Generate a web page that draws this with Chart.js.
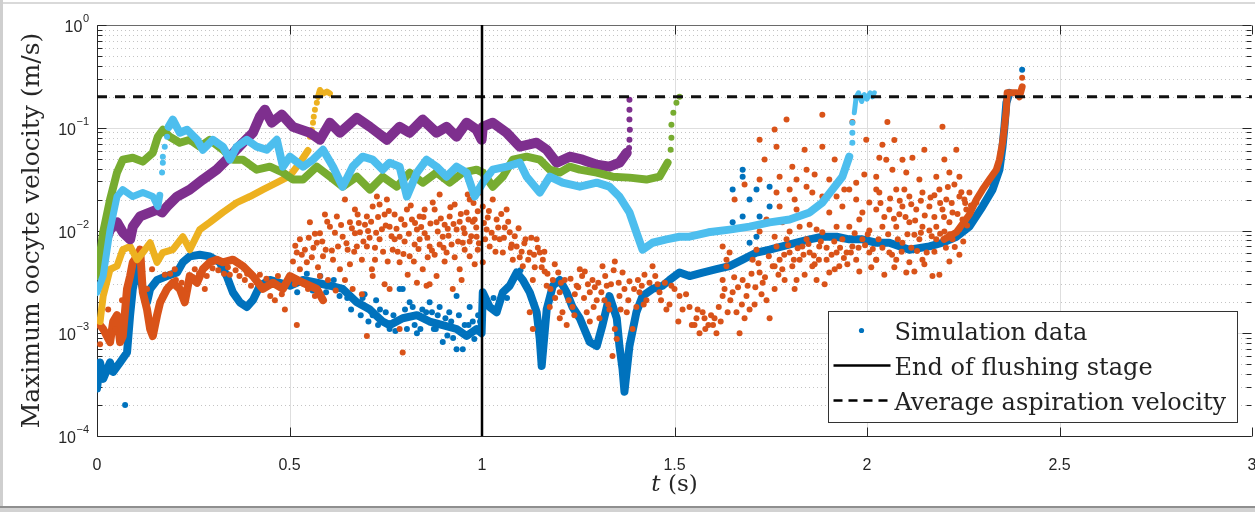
<!DOCTYPE html>
<html>
<head>
<meta charset="utf-8">
<title>Maximum oocyte velocity</title>
<script src="https://cdn.jsdelivr.net/npm/chart.js@4.4.1/dist/chart.umd.min.js"></script>
<style>
  html, body { margin: 0; padding: 0; background: #fff; }
  #wrap { width: 1255px; height: 512px; position: relative; }
</style>
</head>
<body>
<div id="wrap"><canvas id="velChart"></canvas></div>
<script>
// axis ticks
const xTicks = [0, 0.5, 1, 1.5, 2, 2.5, 3];
const yDecades = [1e-4, 1e-3, 1e-2, 1e-1, 1];

// reference lines
const flushEnd = 1;          // end of flushing stage (s)
const aspirationVel = 0.2;   // average aspiration velocity (m/s)

// simulation runs, [t (s), v (m/s)]
const blueBand = [[0,0.00029],[0.008,0.00052],[0.016,0.00036],[0.034,0.00052],[0.042,0.00042],[0.06,0.00052],[0.078,0.00065],[0.086,0.0015],[0.093,0.0027],[0.104,0.0045],[0.112,0.0036],[0.119,0.0027],[0.13,0.002],[0.138,0.0027],[0.156,0.0033],[0.182,0.0036],[0.208,0.0039],[0.223,0.0049],[0.241,0.0056],[0.267,0.0058],[0.293,0.0056],[0.319,0.0049],[0.337,0.0036],[0.353,0.0025],[0.371,0.002],[0.389,0.0018],[0.405,0.0021],[0.423,0.0029],[0.449,0.0033],[0.475,0.0031],[0.501,0.0029],[0.535,0.0033],[0.571,0.0031],[0.605,0.0029],[0.638,0.0027],[0.675,0.002],[0.709,0.0017],[0.742,0.0013],[0.76,0.0012],[0.794,0.0014],[0.831,0.0015],[0.864,0.0013],[0.898,0.0012],[0.934,0.0011],[0.96,0.00094],[0.986,0.0011],[0.999,0.001],[1.002,0.0025],[1.02,0.0018],[1.038,0.0016],[1.054,0.0025],[1.072,0.0029],[1.09,0.0039],[1.106,0.0033],[1.124,0.0025],[1.142,0.0016],[1.15,0.00088],[1.155,0.00048],[1.168,0.0017],[1.184,0.0029],[1.202,0.0033],[1.22,0.0025],[1.235,0.0018],[1.254,0.0014],[1.28,0.00082],[1.298,0.00075],[1.313,0.0012],[1.331,0.0023],[1.35,0.0014],[1.357,0.00075],[1.365,0.00045],[1.37,0.00027],[1.383,0.00075],[1.401,0.0016],[1.417,0.0023],[1.443,0.0027],[1.469,0.0029],[1.487,0.0033],[1.513,0.0039],[1.539,0.0036],[1.573,0.0039],[1.609,0.0042],[1.643,0.0045],[1.677,0.0052],[1.713,0.0061],[1.747,0.0065],[1.78,0.007],[1.817,0.0076],[1.851,0.0082],[1.884,0.0087],[1.921,0.0087],[1.954,0.0082],[1.988,0.0082],[2.024,0.0076],[2.058,0.0076],[2.11,0.0065],[2.162,0.007],[2.196,0.0076],[2.232,0.0087],[2.266,0.0109],[2.3,0.0171],[2.326,0.025],[2.344,0.0391],[2.352,0.0654],[2.357,0.102],[2.362,0.175],[2.37,0.219]];
const blueDots = [
  [0.073,0.0002],[0.716,0.0015],[0.76,0.0011],[0.786,0.0027],[0.794,0.0027],[0.812,0.002],[0.831,0.001],[0.864,0.002],[0.89,0.0018],[0.898,0.00082],[0.934,0.0007],[0.934,0.0023],[0.95,0.0007],[0.968,0.0018],[0.976,0.0013],[0.69,0.0022],[0.735,0.0017],[0.845,0.0017],[0.915,0.0016],[0.88,0.0011],[0.99,0.0015],
  [0.52,0.0025],[0.545,0.0038],[0.56,0.0026],[0.58,0.0036],[0.595,0.0025],[0.615,0.0033],[0.63,0.0023],[0.65,0.0022],[0.66,0.0017],[0.685,0.0015],[0.695,0.0024],[0.705,0.0013],[0.725,0.0021],[0.73,0.0012],[0.75,0.0016],[0.77,0.0015],[0.775,0.00105],[0.8,0.0017],[0.805,0.0011],[0.82,0.0018],[0.825,0.0012],[0.84,0.0011],[0.855,0.0016],[0.87,0.0016],[0.875,0.0011],[0.885,0.0015],[0.905,0.0014],[0.91,0.00095],[0.92,0.0013],[0.925,0.0009],[0.94,0.0015],[0.955,0.0012],[0.965,0.0012],[0.98,0.00088],[0.995,0.0013],
  [1.01,0.0021],[1.03,0.0022],[1.045,0.002],[1.065,0.0022],[1.08,0.0034],[1.1,0.0041],[1.115,0.0029],
  [1.651,0.025],[1.651,0.012],[1.677,0.0391],[1.677,0.0334],[1.677,0.0137],[1.695,0.02],[1.695,0.0076],[1.713,0.025],[1.713,0.0087],[1.721,0.0137],[1.747,0.0267],[1.747,0.0171],[2.403,0.366]
];

const orangeBand = [[0,0.0013],[0.016,0.0011],[0.034,0.00082],[0.042,0.0013],[0.052,0.0015],[0.06,0.00082],[0.067,0.00094],[0.078,0.0027],[0.086,0.0036],[0.093,0.0049],[0.104,0.0056],[0.112,0.0065],[0.119,0.0025],[0.13,0.0017],[0.138,0.0011],[0.145,0.00094],[0.156,0.0015],[0.164,0.002],[0.182,0.0027],[0.197,0.0031],[0.215,0.0027],[0.228,0.002],[0.241,0.0036],[0.26,0.0031],[0.275,0.0042],[0.293,0.0049],[0.311,0.0052],[0.327,0.0049],[0.353,0.0052],[0.379,0.0045],[0.405,0.0036],[0.431,0.0027],[0.457,0.0031],[0.483,0.0027],[0.501,0.0036],[0.535,0.0031],[0.571,0.0027],[0.587,0.0021]];
const orangeTail = [[2.2,0.0082],[2.232,0.0096],[2.266,0.0143],[2.284,0.02],[2.3,0.025],[2.318,0.0313],[2.336,0.0391],[2.344,0.0489],[2.352,0.0715],[2.357,0.102],[2.362,0.15],[2.364,0.219],[2.377,0.219],[2.388,0.219],[2.396,0.2],[2.403,0.25]];
const orangeDots = [
  // start-up
  [0.008,0.00078],[0.029,0.0017],[0.047,0.0011],[0.065,0.0021],[0.13,0.0027],[0.143,0.0042],[0.176,0.0037],[0.202,0.0042],[0.254,0.0042],[0.28,0.0027],[0.345,0.0037],[0.384,0.0033],[0.423,0.0037],[0.462,0.0021],[0.488,0.0017],
  [0.17,0.0023],[0.19,0.0038],[0.205,0.0033],[0.22,0.0031],[0.235,0.0027],[0.25,0.0035],[0.265,0.0038],[0.285,0.0036],[0.3,0.0043],[0.315,0.0041],[0.33,0.0038],[0.34,0.0044],[0.36,0.0041],[0.37,0.0036],[0.39,0.0038],[0.4,0.0029],[0.415,0.0031],[0.44,0.0034],[0.45,0.0023],[0.47,0.0036],[0.48,0.0024],[0.495,0.0032],
  // flushing stage
  [0.519,0.0012],[0.701,0.00094],[0.794,0.00065],[0.786,0.0011],[0.519,0.0061],[0.545,0.0049],[0.571,0.0076],[0.587,0.0056],[0.605,0.0109],[0.623,0.0137],[0.638,0.0087],[0.657,0.012],[0.675,0.007],[0.683,0.0096],[0.701,0.0137],[0.716,0.0171],[0.727,0.0214],[0.734,0.0082],[0.753,0.02],[0.76,0.0109],[0.768,0.0065],[0.786,0.0087],[0.805,0.016],[0.812,0.0056],[0.831,0.0102],[0.838,0.0137],[0.846,0.0042],[0.864,0.007],[0.872,0.0187],[0.882,0.012],[0.898,0.0087],[0.908,0.0061],[0.916,0.0137],[0.934,0.0102],[0.942,0.0042],[0.95,0.0076],[0.96,0.015],[0.968,0.0056],[0.986,0.0087],[0.994,0.0234],[1.002,0.0049],
  [0.579,0.0036],[0.631,0.0042],[0.716,0.0036],[0.76,0.0027],[0.664,0.0027],[0.882,0.0036],[0.831,0.0031],[0.924,0.0027],[0.701,0.007],[0.553,0.012],[0.786,0.0049],[0.856,0.0029],
  [0.566,0.0093],[0.592,0.0143],[0.644,0.02],[0.67,0.016],[0.696,0.0114],[0.722,0.0052],[0.747,0.0143],[0.773,0.0082],[0.799,0.0114],[0.825,0.0073],[0.851,0.016],[0.877,0.0058],[0.903,0.0114],[0.929,0.0179],[0.955,0.0065],[0.981,0.0128],[0.968,0.02],[0.89,0.0224],[0.734,0.0179],
  [0.509,0.005],[0.527,0.0042],[0.54,0.0065],[0.558,0.0055],[0.574,0.0044],[0.594,0.0065],[0.613,0.0052],[0.626,0.007],[0.514,0.003],[0.548,0.0027],[0.566,0.0023],[0.6,0.0033],[0.62,0.0026],[0.644,0.0033],[0.657,0.0047],[0.527,0.0082],[0.579,0.0094],
  [0.651,0.0065],[0.67,0.0094],[0.688,0.0052],[0.704,0.0099],[0.722,0.0068],[0.74,0.0103],[0.755,0.005],[0.773,0.0143],[0.781,0.0062],[0.799,0.0078],[0.818,0.0128],[0.823,0.005],[0.838,0.0082],[0.677,0.0143],[0.714,0.0042],[0.747,0.003],[0.688,0.0024],[0.807,0.0037],
  [0.851,0.0094],[0.859,0.0055],[0.877,0.016],[0.89,0.0073],[0.903,0.005],[0.911,0.0104],[0.921,0.0073],[0.929,0.0055],[0.942,0.0122],[0.955,0.0094],[0.968,0.0078],[0.976,0.0122],[0.989,0.0065],[0.981,0.0047],[0.947,0.0033],[0.864,0.003],[0.963,0.0224],[0.989,0.0154],
  [0.515,0.0071],[0.532,0.0058],[0.55,0.0085],[0.562,0.0068],[0.585,0.0078],[0.598,0.0122],[0.61,0.0064],[0.618,0.0095],[0.634,0.0113],[0.648,0.0075],[0.662,0.0105],[0.668,0.0062],[0.68,0.0118],[0.692,0.0078],[0.708,0.0085],[0.712,0.0122],[0.725,0.0095],[0.73,0.0135],[0.743,0.0062],[0.75,0.0112],[0.758,0.0155],[0.765,0.0088],[0.778,0.0104],[0.79,0.0129],[0.796,0.0059],[0.81,0.0093],[0.815,0.0175],[0.826,0.0118],[0.835,0.0066],[0.842,0.0108],[0.848,0.0135],[0.858,0.0085],[0.866,0.0117],[0.87,0.0064],[0.885,0.0098],[0.893,0.0131],[0.9,0.0068],[0.913,0.0089],[0.918,0.0168],[0.926,0.0116],[0.938,0.0078],[0.945,0.0145],[0.952,0.0105],[0.965,0.0128],[0.972,0.0088],[0.978,0.0185],[0.985,0.0107],[0.992,0.0075],
  // after flushing
  [1.002,0.0171],[1.012,0.0102],[1.02,0.007],[1.028,0.02],[1.038,0.0128],[1.046,0.0082],[1.054,0.0061],[1.064,0.016],[1.072,0.0096],[1.08,0.0052],[1.09,0.007],[1.106,0.0045],[1.124,0.0061],[1.132,0.0033],[1.142,0.0082],[1.158,0.0052],[1.168,0.0029],[1.176,0.0018],[1.184,0.0033],[1.202,0.0025],[1.209,0.0016],[1.22,0.0012],[1.235,0.0018],[1.246,0.0029],[1.254,0.0042],[1.272,0.0016],[1.28,0.0025],[1.287,0.0033],[1.298,0.0021],[1.305,0.0014],[1.313,0.0045],[1.324,0.0029],[1.331,0.0017],[1.339,0.0006],[1.35,0.00088],[1.357,0.0023],[1.365,0.0039],[1.376,0.0016],[1.391,0.0011],[1.401,0.0018],[1.409,0.0025],[1.427,0.0021],[1.443,0.0045],[1.461,0.0025],[1.479,0.0017],[1.492,0.0029],[1.513,0.0023],[1.521,0.0017],[1.124,0.0016],[1.132,0.0011],[1.15,0.0061],
  [1.015,0.0134],[1.033,0.0085],[1.059,0.0107],[1.077,0.0073],[1.098,0.0055],[1.113,0.0082],[1.137,0.0044],[1.163,0.004],[1.189,0.0047],[1.215,0.0033],[1.241,0.0024],[1.267,0.004],[1.293,0.0028],[1.318,0.0021],[1.345,0.005],[1.383,0.0032],[1.422,0.0037],[1.456,0.003],[1.487,0.0019],[1.345,0.0011],[1.202,0.0014],[1.28,0.0013],
  [1.005,0.0118],[1.008,0.0082],[1.018,0.0155],[1.025,0.0095],[1.035,0.0062],[1.042,0.0107],[1.05,0.0145],[1.057,0.0085],[1.068,0.0122],[1.075,0.0068],[1.085,0.0088],[1.095,0.0105],[1.103,0.0062],[1.11,0.0075],[1.12,0.0052],[1.128,0.0085],[1.135,0.0058],[1.145,0.0068],[1.155,0.0044],[1.162,0.0062],
  [1.17,0.0038],[1.178,0.0027],[1.19,0.0022],[1.198,0.0039],[1.205,0.0031],[1.225,0.0021],[1.23,0.0034],[1.24,0.0015],[1.25,0.0028],[1.26,0.0036],[1.265,0.0022],[1.275,0.003],[1.29,0.0018],[1.302,0.0031],[1.31,0.0025],[1.32,0.0036],[1.328,0.0019],[1.335,0.003],[1.342,0.0041],[1.355,0.0031],[1.36,0.0017],[1.37,0.0027],[1.38,0.0021],[1.395,0.0027],[1.405,0.0033],[1.415,0.0029],[1.42,0.0019],[1.435,0.0031],[1.45,0.0036],[1.465,0.0021],[1.475,0.0031],[1.5,0.0027],[1.51,0.0013],[1.53,0.0024],
  // aspiration
  [1.539,0.0018],[1.557,0.0014],[1.573,0.0016],[1.588,0.0012],[1.609,0.001],[1.625,0.0023],[1.625,0.0033],[1.635,0.0045],[1.643,0.0061],[1.651,0.0025],[1.661,0.0016],[1.669,0.001],[1.677,0.0033],[1.687,0.0023],[1.695,0.0017],[1.703,0.0052],[1.713,0.0065],[1.721,0.0039],[1.729,0.0031],[1.739,0.0021],[1.747,0.0014],[1.755,0.0045],[1.765,0.007],[1.773,0.0052],[1.78,0.0042],[1.791,0.0082],[1.799,0.0061],[1.806,0.0045],[1.817,0.0033],[1.825,0.0052],[1.832,0.007],[1.843,0.0082],[1.851,0.0061],[1.858,0.0045],[1.869,0.0033],[1.876,0.007],[1.884,0.0096],[1.895,0.0052],[1.902,0.0039],[1.921,0.0061],[1.928,0.0045],[1.936,0.0082],[1.947,0.0061],[1.954,0.0109],[1.962,0.007],[1.972,0.0052],[1.988,0.0082],[2.006,0.0061],[2.024,0.0052],
  [1.552,0.0012],[1.578,0.0014],[1.604,0.0014],[1.638,0.0016],[1.682,0.0014],[1.708,0.0019],[1.726,0.0024],[1.76,0.0027],[1.786,0.0033],[1.812,0.0027],[1.838,0.0037],[1.864,0.0047],[1.89,0.003],[1.916,0.0042],[1.949,0.0047],[1.98,0.004],[2.011,0.0044],[2.045,0.0037],[2.071,0.0044],[2.123,0.004],[2.149,0.0047],[2.188,0.0037],[2.214,0.005],[2.24,0.0058],
  [1.545,0.0012],[1.56,0.0017],[1.565,0.001],[1.58,0.0011],[1.595,0.0015],[1.6,0.0012],[1.615,0.0018],[1.62,0.0013],[1.63,0.0027],[1.645,0.0021],[1.655,0.0035],[1.665,0.0028],[1.675,0.0019],[1.69,0.0029],[1.7,0.0038],[1.71,0.0028],[1.718,0.0048],[1.735,0.0035],[1.745,0.0056],[1.76,0.0045],[1.77,0.0037],
  [1.785,0.0058],[1.795,0.0072],[1.81,0.0052],[1.82,0.0067],[1.835,0.0058],[1.848,0.0074],[1.862,0.0057],[1.875,0.0052],[1.88,0.0078],[1.895,0.0068],[1.908,0.0058],[1.915,0.0078],[1.93,0.0068],[1.94,0.0054],[1.958,0.0061],[1.968,0.0094],[1.978,0.0068],[1.995,0.0072],[2.002,0.0092],[2.015,0.0066],[2.03,0.0082],[2.04,0.0068],[2.055,0.0092],[2.065,0.0058],[2.08,0.0082],[2.09,0.0062],[2.105,0.0092],[2.115,0.0068],[2.13,0.0063],[2.14,0.0095],[2.155,0.0061],[2.168,0.0088],[2.175,0.0062],[2.19,0.0093],[2.205,0.0068],[2.215,0.0092],[2.228,0.0069],[2.24,0.0103],[2.25,0.0078],[2.26,0.0112],
  [1.721,0.0764],[1.791,0.12],[1.884,0.134],[1.884,0.0654],[1.962,0.114],[1.998,0.0764],[1.765,0.0654],[1.806,0.0418],[1.843,0.0391],[1.773,0.0334],[1.817,0.0313],[1.721,0.0313],[1.765,0.0234],[1.799,0.025],[1.843,0.0267],[1.858,0.0234],[1.884,0.0214],[1.902,0.0313],[1.921,0.0214],[1.936,0.0171],[1.954,0.025],[1.972,0.0292],[1.972,0.02],[1.988,0.015],[2.006,0.0187],[2.024,0.025],[1.773,0.0171],[1.817,0.016],[1.851,0.015],[1.902,0.015],[1.739,0.0128],[1.78,0.012],[1.825,0.0109],[1.869,0.0102],[1.921,0.0109],[1.625,0.007],[1.635,0.0052],
  [1.656,0.02],[1.682,0.028],[1.734,0.049],[1.76,0.096],[1.812,0.02],[1.838,0.061],[1.864,0.035],[1.916,0.049],[1.941,0.025],[1.993,0.035],[2.032,0.051],[2.071,0.076],[2.097,0.025],[2.149,0.061],[2.175,0.022],[2.201,0.049],[2.227,0.028],[2.253,0.02],[2.123,0.0091],[2.162,0.01],[2.201,0.0098],[2.084,0.0144],[2.006,0.01],[1.98,0.0128],[1.799,0.0098],[1.851,0.0114],[1.76,0.0087],[1.721,0.0098],
  [2.053,0.114],[2.196,0.102],[2.118,0.0511],[2.232,0.0611],[2.092,0.0489],[2.04,0.0684],[2.05,0.0489],[2.024,0.0334],[2.066,0.0391],[2.102,0.0366],[2.136,0.0313],[2.18,0.0334],[2.214,0.0366],[2.24,0.0334],[2.032,0.0234],[2.076,0.025],[2.11,0.0214],[2.144,0.0234],[2.188,0.025],[2.206,0.02],[2.24,0.0214],[2.266,0.0234],[2.284,0.0187],[2.024,0.016],[2.058,0.016],[2.092,0.0171],[2.128,0.016],[2.162,0.0171],[2.196,0.016],[2.222,0.015],[2.258,0.016],[2.04,0.0109],[2.076,0.0109],[2.11,0.012],[2.144,0.0109],[2.18,0.0109],[2.214,0.012],[2.248,0.0128],[2.092,0.0076],[2.136,0.0082],[2.18,0.0082],[2.222,0.0082],[2.024,0.0052],[2.076,0.0052],[2.11,0.0049],[2.144,0.0052],[2.17,0.0036],[2.102,0.0039],[2.058,0.0061],[2.403,0.306],
  [2.035,0.0185],[2.045,0.0135],[2.06,0.0205],[2.07,0.013],[2.085,0.0195],[2.1,0.0135],[2.115,0.018],[2.125,0.0125],[2.14,0.0195],[2.15,0.014],[2.165,0.021],[2.175,0.0135],[2.19,0.0185],[2.2,0.0135],[2.21,0.0265],[2.22,0.0185],[2.235,0.0145],[2.245,0.0235],[2.255,0.0185],[2.27,0.0175]
];

const yellowBand = [[0.008,0.0013],[0.016,0.0023],[0.034,0.0042],[0.052,0.0045],[0.067,0.0065],[0.086,0.007],[0.104,0.0052],[0.119,0.0061],[0.138,0.0076],[0.156,0.0049],[0.171,0.0061],[0.197,0.0065],[0.223,0.0087],[0.241,0.0065],[0.267,0.0102],[0.293,0.012],[0.327,0.015],[0.363,0.0187],[0.397,0.0214],[0.431,0.025],[0.467,0.0292],[0.501,0.034],[0.527,0.0457],[0.548,0.06]];
const yellowRise = [[0.553,0.0818],[0.558,0.0957],[0.561,0.112],[0.563,0.128],[0.566,0.15],[0.571,0.175]];
const yellowTop = [[0.574,0.2],[0.579,0.233],[0.587,0.215],[0.597,0.225],[0.605,0.215]];

const purpleBand = [[0,0.0049],[0.034,0.0102],[0.052,0.012],[0.067,0.0096],[0.086,0.0082],[0.093,0.0109],[0.112,0.0137],[0.138,0.015],[0.156,0.016],[0.169,0.015],[0.182,0.0171],[0.208,0.0214],[0.241,0.025],[0.275,0.0313],[0.311,0.0391],[0.345,0.0523],[0.379,0.0715],[0.405,0.0894],[0.423,0.128],[0.436,0.15],[0.454,0.112],[0.48,0.134],[0.509,0.102],[0.553,0.0894],[0.579,0.0764],[0.605,0.112],[0.631,0.0894],[0.675,0.125],[0.709,0.102],[0.753,0.0764],[0.786,0.102],[0.812,0.0894],[0.846,0.12],[0.882,0.0894],[0.908,0.102],[0.934,0.0818],[0.96,0.112],[0.986,0.0957],[0.999,0.0764],[1.002,0.102],[1.028,0.112],[1.064,0.0894],[1.098,0.0654],[1.142,0.0715],[1.168,0.0611],[1.194,0.0457],[1.228,0.0523],[1.261,0.0489],[1.298,0.0437],[1.331,0.0418],[1.357,0.0457],[1.376,0.0572]];
const purpleRise = [[1.382,0.0636],[1.383,0.0764],[1.384,0.0957],[1.383,0.12],[1.383,0.15],[1.383,0.187]];

const greenBand = [[0,0.0036],[0.016,0.0096],[0.034,0.02],[0.052,0.0366],[0.067,0.0489],[0.093,0.0511],[0.119,0.0468],[0.145,0.0572],[0.158,0.0818],[0.171,0.0957],[0.189,0.0818],[0.215,0.0715],[0.241,0.0764],[0.267,0.0654],[0.293,0.0764],[0.327,0.0611],[0.353,0.0489],[0.379,0.0489],[0.415,0.0391],[0.449,0.0418],[0.483,0.0366],[0.509,0.0313],[0.535,0.0313],[0.571,0.0418],[0.605,0.0334],[0.638,0.0267],[0.675,0.0334],[0.709,0.025],[0.742,0.0334],[0.779,0.0267],[0.812,0.0366],[0.846,0.0292],[0.882,0.0366],[0.916,0.0292],[0.95,0.0366],[0.986,0.0391],[1.002,0.0366],[1.028,0.0267],[1.054,0.0334],[1.08,0.0489],[1.116,0.0523],[1.15,0.0489],[1.176,0.0391],[1.202,0.0366],[1.228,0.0418],[1.254,0.0391],[1.298,0.0366],[1.339,0.0334],[1.383,0.0327],[1.427,0.0313],[1.461,0.0334],[1.482,0.0457]];
const greenRise = [[1.49,0.0611],[1.492,0.08],[1.492,0.107],[1.497,0.14],[1.505,0.175],[1.513,0.2]];

const lightBandA = [[0,0.0025],[0.016,0.0036],[0.034,0.0102],[0.052,0.0214],[0.067,0.025],[0.093,0.0214],[0.119,0.0234],[0.145,0.0214],[0.158,0.0171],[0.163,0.022]];
const lightRiseA = [[0.169,0.0366],[0.171,0.0457],[0.171,0.0523],[0.176,0.0654],[0.182,0.0818]];
const lightBandB = [[0.186,0.102],[0.197,0.12],[0.215,0.0894],[0.234,0.0957],[0.26,0.0764],[0.275,0.0611],[0.301,0.0764],[0.327,0.0654],[0.345,0.0489],[0.363,0.0654],[0.389,0.0764],[0.415,0.0654],[0.441,0.0611],[0.467,0.0764],[0.483,0.0418],[0.501,0.0523],[0.535,0.0418],[0.561,0.0489],[0.587,0.0611],[0.613,0.0418],[0.638,0.0267],[0.664,0.0418],[0.69,0.0523],[0.716,0.0489],[0.742,0.0391],[0.76,0.0457],[0.786,0.0418],[0.805,0.0214],[0.831,0.0366],[0.856,0.0489],[0.882,0.0418],[0.908,0.0334],[0.934,0.0418],[0.96,0.0366],[0.981,0.0214],[1.002,0.0292],[1.028,0.0391],[1.064,0.0418],[1.098,0.0457],[1.116,0.0334],[1.15,0.0234],[1.176,0.0334],[1.209,0.0292],[1.254,0.0267],[1.298,0.0292],[1.331,0.0267],[1.357,0.0214],[1.383,0.015],[1.401,0.0096],[1.417,0.0065],[1.443,0.0076],[1.479,0.0082],[1.513,0.0087],[1.539,0.0087],[1.588,0.0096],[1.643,0.0102],[1.695,0.0109],[1.747,0.012],[1.799,0.0128],[1.851,0.015],[1.884,0.0187],[1.91,0.025],[1.936,0.0334],[1.954,0.0523]];
const lightRiseB = [[1.962,0.0715],[1.962,0.0894],[1.962,0.112]];
const lightTop = [[1.967,0.14],[1.972,0.2],[1.978,0.219],[1.986,0.18],[1.993,0.21],[2.0,0.19],[2.008,0.219],[2.014,0.2],[2.019,0.219]];

const colors = {
  blue: '#0072BD', orange: '#D95319', yellow: '#EDB120',
  purple: '#7E2F8E', green: '#77AC30', light: '#4DBEEE'
};

const toPts = arr => arr.map(([t, v]) => ({ x: t, y: v }));

function band(data, color, width) {
  return {
    data: toPts(data), showLine: true, borderColor: color, borderWidth: width,
    pointRadius: 0, pointHoverRadius: 0, borderJoinStyle: 'round', borderCapStyle: 'round', tension: 0
  };
}
function dots(data, color) {
  return {
    data: toPts(data), showLine: false, backgroundColor: color, borderWidth: 0,
    pointRadius: 3, pointHoverRadius: 0
  };
}

const tickFamily = '"Liberation Sans", Arial, sans-serif';

// grid, box and inward ticks, drawn under the data
const axesPlugin = {
  id: 'axesBox',
  beforeDraw(chart) {
    const ctx = chart.ctx;
    ctx.save();
    ctx.fillStyle = '#fff';
    ctx.fillRect(0, 0, chart.width, chart.height);
    // window frame
    ctx.fillStyle = '#d9d9d9';
    ctx.fillRect(0, 2, chart.width, 2);
    ctx.fillStyle = '#cfcfcf';
    ctx.fillRect(0, 0, 3, chart.height);
    ctx.fillStyle = '#8f8f8f';
    ctx.fillRect(0, chart.height - 6, chart.width, 2);
    ctx.fillStyle = '#d2d2d2';
    ctx.fillRect(0, chart.height - 4, chart.width, 4);
    ctx.restore();
  },
  beforeDatasetsDraw(chart) {
    const { ctx, chartArea: ca, scales: { x, y } } = chart;
    const px = v => Math.round(x.getPixelForValue(v)) + 0.5;
    const py = v => Math.round(y.getPixelForValue(v)) + 0.5;
    ctx.save();
    ctx.lineWidth = 1;
    // minor y grid (dotted)
    ctx.strokeStyle = '#c4c4c4';
    ctx.setLineDash([1, 3]);
    for (let i = 0; i < yDecades.length - 1; i++) {
      for (let k = 2; k <= 9; k++) {
        const yy = py(yDecades[i] * k);
        ctx.beginPath(); ctx.moveTo(ca.left, yy); ctx.lineTo(ca.right, yy); ctx.stroke();
      }
    }
    // major grid
    ctx.setLineDash([]);
    ctx.strokeStyle = '#dedede';
    xTicks.slice(1, -1).forEach(t => {
      const xx = px(t);
      ctx.beginPath(); ctx.moveTo(xx, ca.top); ctx.lineTo(xx, ca.bottom); ctx.stroke();
    });
    yDecades.slice(1, -1).forEach(v => {
      const yy = py(v);
      ctx.beginPath(); ctx.moveTo(ca.left, yy); ctx.lineTo(ca.right, yy); ctx.stroke();
    });
    // box
    const L = Math.round(ca.left) + 0.5, R = Math.round(ca.right) - 0.5;
    const T = Math.round(ca.top) + 0.5, B = Math.round(ca.bottom) + 0.5;
    ctx.strokeStyle = '#262626';
    ctx.beginPath(); ctx.moveTo(L, T); ctx.lineTo(L, B); ctx.lineTo(R, B); ctx.stroke();
    ctx.strokeStyle = '#6a6a6a';
    ctx.beginPath(); ctx.moveTo(L, T); ctx.lineTo(R, T); ctx.stroke();
    // ticks, pointing inward
    ctx.strokeStyle = '#262626';
    xTicks.forEach(t => {
      const xx = px(t);
      ctx.beginPath(); ctx.moveTo(xx, B); ctx.lineTo(xx, B - 9); ctx.stroke();
      ctx.beginPath(); ctx.moveTo(xx, T); ctx.lineTo(xx, T + 9); ctx.stroke();
    });
    for (let i = 0; i < yDecades.length; i++) {
      const yy = py(yDecades[i]);
      ctx.beginPath(); ctx.moveTo(L, yy); ctx.lineTo(L + 9, yy); ctx.stroke();
      ctx.beginPath(); ctx.moveTo(R, yy); ctx.lineTo(R - 9, yy); ctx.stroke();
      if (i === yDecades.length - 1) break;
      for (let k = 2; k <= 9; k++) {
        const ym = py(yDecades[i] * k);
        ctx.beginPath(); ctx.moveTo(L, ym); ctx.lineTo(L + 5, ym); ctx.stroke();
        ctx.beginPath(); ctx.moveTo(R, ym); ctx.lineTo(R - 5, ym); ctx.stroke();
      }
    }
    ctx.restore();
  },
  afterDraw(chart) {
    const { ctx, chartArea: ca, scales: { y } } = chart;
    ctx.save();
    ctx.fillStyle = '#262626';

    // decade labels with raised exponent
    yDecades.forEach(v => {
      const yy = y.getPixelForValue(v);
      const e = String(Math.round(Math.log10(v))).replace('-', '\u2212');
      const right = ca.left - 8;
      ctx.textAlign = 'right';
      ctx.textBaseline = 'alphabetic';
      ctx.font = '11px ' + tickFamily;
      const we = ctx.measureText(e).width;
      ctx.fillText(e, right, yy - 3);
      ctx.font = '16px ' + tickFamily;
      ctx.fillText('10', right - we - 0.5, yy + 7);
    });

    // y title
    ctx.font = '25px "DejaVu Serif"';
    ctx.textAlign = 'center';
    ctx.textBaseline = 'alphabetic';
    ctx.translate(39, (ca.top + ca.bottom) / 2);
    ctx.rotate(-Math.PI / 2);
    ctx.fillText('Maximum oocyte velocity (m/s)', 0, 0);
    ctx.setTransform(1, 0, 0, 1, 0, 0);

    // x title, italic t
    const cx = (ca.left + ca.right) / 2;
    ctx.textAlign = 'left';
    ctx.font = 'italic 23px "DejaVu Serif"';
    const wT = ctx.measureText('t').width;
    ctx.font = '23px "DejaVu Serif"';
    const wS = ctx.measureText(' (s)').width;
    const x0 = cx - (wT + wS) / 2;
    ctx.font = 'italic 23px "DejaVu Serif"';
    ctx.fillText('t', x0, 491);
    ctx.font = '23px "DejaVu Serif"';
    ctx.fillText(' (s)', x0 + wT, 491);

    // legend box
    const bw = 409, bh = 111;
    const bx = Math.round(ca.right - 15 - bw) + 0.5;
    const by = Math.round(ca.bottom - 14 - bh) + 0.5;
    ctx.fillStyle = '#fff';
    ctx.fillRect(bx, by, bw, bh);
    ctx.strokeStyle = '#333';
    ctx.lineWidth = 1;
    ctx.strokeRect(bx, by, bw, bh);
    const rows = [by + 19, by + 54, by + 89];
    ctx.fillStyle = colors.blue;
    ctx.beginPath(); ctx.arc(bx + 33, rows[0], 2.6, 0, Math.PI * 2); ctx.fill();
    ctx.strokeStyle = '#000';
    ctx.lineWidth = 2.5;
    ctx.beginPath(); ctx.moveTo(bx + 5, rows[1]); ctx.lineTo(bx + 62, rows[1]); ctx.stroke();
    ctx.setLineDash([9, 6]);
    ctx.beginPath(); ctx.moveTo(bx + 5, rows[2]); ctx.lineTo(bx + 62, rows[2]); ctx.stroke();
    ctx.setLineDash([]);
    ctx.fillStyle = '#222';
    ctx.font = '24px "DejaVu Serif"';
    ctx.textAlign = 'left';
    ['Simulation data', 'End of flushing stage', 'Average aspiration velocity'].forEach((s, i) => {
      ctx.fillText(s, bx + 66, rows[i] + 9);
    });
    ctx.restore();
  }
};

const velCtx = document.getElementById('velChart').getContext('2d');
const velChart = new Chart(velCtx, {
  type: 'scatter',
  data: {
    datasets: [
      // reference lines on top
      { data: [{ x: flushEnd, y: yDecades[0] }, { x: flushEnd, y: yDecades[yDecades.length - 1] }],
        showLine: true, borderColor: '#000', borderWidth: 2.5, pointRadius: 0, pointHoverRadius: 0 },
      { data: [{ x: xTicks[0], y: aspirationVel }, { x: xTicks[xTicks.length - 1], y: aspirationVel }],
        showLine: true, borderColor: '#111', borderWidth: 3, borderDash: [10, 8], pointRadius: 0, pointHoverRadius: 0 },
      // later runs drawn over earlier ones
      band(lightBandA, colors.light, 7),
      dots(lightRiseA, colors.light),
      band(lightBandB, colors.light, 8),
      dots(lightRiseB, colors.light),
      band(lightTop, colors.light, 5),
      band(greenBand, colors.green, 8),
      dots(greenRise, colors.green),
      band(purpleBand, colors.purple, 10),
      dots(purpleRise, colors.purple),
      band(yellowBand, colors.yellow, 7),
      dots(yellowRise, colors.yellow),
      band(yellowTop, colors.yellow, 6),
      band(orangeTail, colors.orange, 7),
      dots(orangeDots, colors.orange),
      band(orangeBand, colors.orange, 8),
      dots(blueDots, colors.blue),
      band(blueBand, colors.blue, 8)
    ]
  },
  options: {
    responsive: true,
    maintainAspectRatio: false,
    animation: false,
    layout: { padding: { left: 0, right: 3, top: 25, bottom: 0 } },
    plugins: {
      legend: { display: false },
      tooltip: { enabled: false }
    },
    scales: {
      x: {
        type: 'linear',
        min: 0,
        max: 3,
        afterBuildTicks: ax => { ax.ticks = xTicks.map(v => ({ value: v })); },
        ticks: { color: '#262626', font: { family: tickFamily, size: 16 }, padding: 12, maxRotation: 0, callback: v => String(v) },
        grid: { display: false },
        border: { display: false },
        afterFit: ax => { ax.height = 76; ax.paddingLeft = 0; ax.paddingRight = 0; }
      },
      y: {
        type: 'logarithmic',
        min: 1e-4,
        max: 1,
        afterBuildTicks: ax => { ax.ticks = yDecades.map(v => ({ value: v })); },
        ticks: { display: false },
        grid: { display: false },
        border: { display: false },
        afterFit: ax => { ax.width = 97; }
      }
    }
  },
  plugins: [axesPlugin]
});
</script>
</body>
</html>
